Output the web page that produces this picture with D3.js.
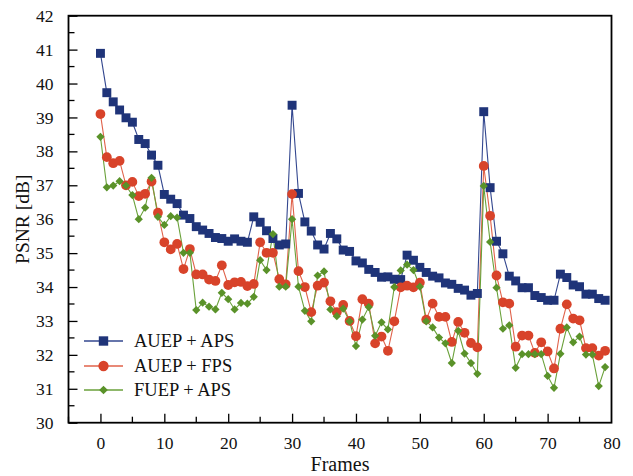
<!DOCTYPE html>
<html><head><meta charset="utf-8">
<script src="https://cdn.jsdelivr.net/npm/d3@7"></script>
<style>body{margin:0;background:#fff}svg{display:block}text{font-family:"Liberation Serif","Times New Roman",serif;fill:#111}</style>
</head><body><svg id="c" width="633" height="476"></svg>
<script>
const frames = d3.range(0, 80);
const auepAps = [40.89,39.73,39.46,39.22,38.99,38.86,38.35,38.23,37.89,37.59,
36.73,36.59,36.46,36.12,36.02,35.78,35.68,35.58,35.46,35.43,
35.35,35.42,35.35,35.32,36.07,35.91,35.66,35.43,35.24,35.27,
39.36,36.76,35.92,35.65,35.24,35.12,35.58,35.42,35.09,35.05,
34.77,34.71,34.52,34.43,34.29,34.30,34.23,34.22,34.94,34.79,
34.58,34.43,34.32,34.27,34.12,34.08,33.96,33.91,33.76,33.81,
39.17,36.93,35.35,34.98,34.32,34.18,33.98,33.98,33.75,33.69,
33.61,33.61,34.38,34.28,34.06,34.01,33.79,33.79,33.66,33.61];
const auepFps = [39.10,37.83,37.65,37.72,37.00,37.10,36.68,36.75,37.11,36.19,
35.32,35.11,35.27,34.53,35.12,34.37,34.37,34.22,34.18,34.64,
34.06,34.14,34.15,34.03,34.09,35.32,35.01,35.01,34.23,34.08,
36.74,34.47,34.00,33.26,34.04,34.13,33.58,33.26,33.47,33.00,
32.55,33.64,33.51,32.34,32.54,32.12,32.99,33.99,34.04,33.99,
34.13,33.04,33.51,33.12,33.12,32.38,32.97,32.65,32.35,32.22,
37.57,36.10,34.34,33.55,33.51,32.24,32.57,32.57,32.06,32.37,
32.10,31.60,32.77,33.49,33.07,33.02,32.20,32.20,31.98,32.12];
const fuepAps = [38.43,36.94,36.99,37.12,36.99,36.71,36.00,36.34,37.22,36.07,
35.83,36.09,36.05,35.01,35.01,33.32,33.54,33.42,33.34,33.83,
33.64,33.34,33.53,33.51,33.71,34.79,34.50,35.56,34.01,34.01,
36.00,34.01,33.30,32.99,34.34,34.46,33.34,33.14,33.36,32.99,
32.26,33.04,33.41,32.56,32.96,32.75,34.00,34.49,34.66,34.50,
34.01,32.99,32.81,32.51,32.34,31.76,32.71,32.04,31.76,31.44,
36.98,35.33,33.98,32.77,32.87,31.62,32.02,32.02,32.02,32.02,
31.38,31.03,32.03,32.81,32.37,32.54,32.01,32.01,31.08,31.64];
const seriesNames = ["AUEP + APS","AUEP + FPS","FUEP + APS"];
const xTicks = [0,10,20,30,40,50,60,70,80];
const yTicks = [30,31,32,33,34,35,36,37,38,39,40,41,42];

const colors = ["#1f3479","#d8432a","#5a9229"];
const lineColors = ["#33478f","#e0624a","#6aa13a"];
const squareDiamond = {draw(ctx, size){const r=Math.sqrt(size/2); ctx.moveTo(0,-r); ctx.lineTo(r,0); ctx.lineTo(0,r); ctx.lineTo(-r,0); ctx.closePath();}};
const symbols = [d3.symbolSquare, d3.symbolCircle, squareDiamond];
const symSizes = [80, 75, 34];

const L=68.5, R=611.5, T=15.7, B=422.7;
const svg = d3.select("#c");
const x = d3.scaleLinear().domain([-5,80]).range([L,R]);
const y = d3.scaleLinear().domain([30,42]).range([B,T]);

const g = svg.append("g");
g.selectAll(".xmin").data(d3.range(-5,80,5).filter(v=>v%10!==0)).join("line")
 .attr("x1",d=>x(d)).attr("x2",d=>x(d)).attr("y1",B).attr("y2",B-6).attr("stroke","#000").attr("stroke-width",1.3);
g.selectAll(".ymin").data(d3.range(30.5,42,1)).join("line")
 .attr("y1",d=>y(d)).attr("y2",d=>y(d)).attr("x1",L).attr("x2",L+6).attr("stroke","#000").attr("stroke-width",1.3);

const xAxis = svg.append("g").attr("transform",`translate(0,${B})`)
 .call(d3.axisBottom(x).tickValues(xTicks).tickSizeInner(-9).tickSizeOuter(0).tickPadding(14).tickFormat(d3.format("d")));
const yAxis = svg.append("g").attr("transform",`translate(${L},0)`)
 .call(d3.axisLeft(y).tickValues(yTicks).tickSizeInner(-9).tickSizeOuter(0).tickPadding(15).tickFormat(d3.format("d")));
[xAxis,yAxis].forEach(a=>{
  a.select(".domain").remove();
  a.selectAll(".tick line").attr("stroke","#000").attr("stroke-width",1.3);
  a.selectAll(".tick text").attr("font-size",17.5).attr("font-family","Liberation Serif, serif").attr("fill","#111");
});
xAxis.selectAll(".tick line").filter(d=>d===80).remove();

svg.append("rect").attr("x",L).attr("y",T).attr("width",R-L).attr("height",B-T)
 .attr("fill","none").attr("stroke","#000").attr("stroke-width",1.8);

const data = [auepAps, auepFps, fuepAps];
const line = d3.line().x((d,i)=>x(frames[i])).y(d=>y(d));
data.forEach((s,k)=>{
  svg.append("path").attr("d",line(s)).attr("fill","none").attr("stroke",lineColors[k]).attr("stroke-width",1.1);
});
data.forEach((s,k)=>{
  svg.append("g").selectAll("path").data(s).join("path")
   .attr("transform",(d,i)=>`translate(${x(frames[i])},${y(d)})`)
   .attr("d",d3.symbol().type(symbols[k]).size(symSizes[k])())
   .attr("fill",colors[k]);
});

const legY = [341,366,390];
seriesNames.forEach((n,k)=>{
  const lg = svg.append("g");
  lg.append("line").attr("x1",84).attr("x2",123).attr("y1",legY[k]).attr("y2",legY[k]).attr("stroke",lineColors[k]).attr("stroke-width",1.3);
  lg.append("path").attr("transform",`translate(103.5,${legY[k]})`).attr("d",d3.symbol().type(symbols[k]).size(symSizes[k]*1.1)()).attr("fill",colors[k]);
  lg.append("text").attr("x",134).attr("y",legY[k]).attr("dy","0.35em").attr("font-size",18.5).text(n);
});

svg.append("text").attr("x",(L+R)/2).attr("y",471).attr("text-anchor","middle").attr("font-size",20).text("Frames");
svg.append("text").attr("transform",`translate(29,${(T+B)/2}) rotate(-90)`).attr("text-anchor","middle").attr("font-size",19.5).text("PSNR [dB]");
</script></body></html>
